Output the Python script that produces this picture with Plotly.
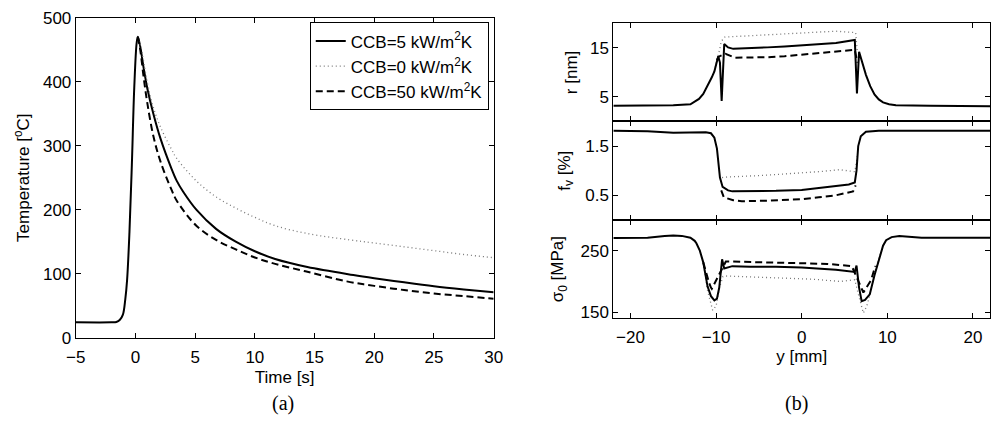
import plotly.graph_objects as go

# ---------------- Panel (a): temperature vs time ----------------
t_solid = [-5, -2, -1.6, -1.3, -1.05, -0.85, -0.7, -0.5, -0.3, -0.1, 0.1, 0.2, 0.4, 0.7, 1.0, 1.5, 2.1, 3.0, 3.46,
           4.0, 5.1, 6.75, 8.4, 10, 11.7, 14.4, 18.25, 20, 22.5, 25, 27.5, 30]
T_solid = [24, 24, 24.5, 28, 36, 60, 90, 165, 270, 390, 460, 470, 455, 420, 389, 350, 311, 265, 245,
           228, 200, 170, 150, 135, 123, 110.5, 98, 93, 86.5, 80.5, 75.5, 71]

t_ccb0 = [0.2, 0.4, 0.7, 1.0, 1.5, 2.1, 3.0, 3.46, 5.1, 6.75, 8.4, 10, 11.7, 14.4, 18, 20, 22.5, 25, 27.5, 30]
T_ccb0 = [470, 458, 430, 398, 360, 329, 295, 280, 245, 220, 202.5, 188, 175, 162.7, 152.7, 148, 142, 136, 130, 125]

t_ccb50 = [0.2, 0.4, 0.7, 1.0, 1.5, 2.1, 3.0, 3.46, 5.1, 6.75, 8.4, 10, 11.7, 14.4, 17.7, 20, 22.5, 25, 27.5, 30]
T_ccb50 = [470, 450, 405, 366, 315, 275, 232, 214, 175, 152.7, 138, 125.4, 115.4, 103, 88, 81, 74.5, 69, 65, 61]

legend_names = ["CCB=5 kW/m<sup>2</sup>K", "CCB=0 kW/m<sup>2</sup>K", "CCB=50 kW/m<sup>2</sup>K"]

# ---------------- Panel (b): profiles vs y ----------------
# r [nm]
y_r_solid = [-22, -18, -15, -13, -12.5, -12, -11.5, -11, -10.5, -10.2, -9.9, -9.75, -9.55, -9.35, -9.05, -8.6, -8,
             -6, -4, -2, 0, 2, 4, 6.2, 6.35, 6.45, 6.7, 7.0, 7.5, 8.0, 8.5, 9.0, 9.5, 10.2, 11, 15, 22]
r_solid = [3.2, 3.2, 3.3, 3.5, 4.0, 4.6, 5.6, 7.2, 9.0, 10.2, 12.5, 13.3, 12.0, 4.2, 15.8, 15.1, 14.8,
           14.9, 15.1, 15.3, 15.5, 15.7, 16.0, 16.6, 10.0, 5.7, 14.2, 12.5, 9.5, 7.2, 5.5, 4.5, 3.9, 3.5, 3.3, 3.2, 3.1]
y_r_ccb0 = [-10.2, -9.9, -9.6, -9.4, -9.0, -6, -3, 0, 2, 4, 5.5, 6.3, 6.5]
r_ccb0 = [10.2, 12.8, 14.5, 16.3, 17.2, 17.5, 17.8, 18.0, 18.2, 18.4, 18.2, 18.1, 14.0]
y_r_ccb50 = [-9.9, -9.7, -9.2, -8.9, -7.8, -6, -4, -2, 0, 2, 4, 6.2, 6.5]
r_ccb50 = [12.5, 13.2, 13.6, 13.8, 13.0, 13.0, 13.1, 13.3, 13.6, 13.9, 14.2, 14.6, 12.0]

# f_v [%]
y_f_solid = [-22, -18, -15, -13, -11.2, -10.6, -10.2, -9.9, -9.7, -9.55, -9.24, -8.6, -8.1, -6, -3, 0, 2, 4,
             5.5, 6.2, 6.4, 6.6, 6.9, 7.5, 9, 15, 22]
f_solid = [1.81, 1.80, 1.77, 1.78, 1.78, 1.76, 1.67, 1.45, 1.10, 0.86, 0.67, 0.60, 0.58, 0.58, 0.59, 0.61, 0.65, 0.69,
           0.72, 0.76, 1.00, 1.50, 1.70, 1.79, 1.81, 1.81, 1.81]
y_f_ccb0 = [-9.3, -8.9, -5, 0, 2, 4.4, 6.2, 6.5]
f_ccb0 = [0.86, 0.87, 0.90, 0.95, 0.98, 1.02, 0.98, 1.3]
y_f_ccb50 = [-9.4, -9.1, -8, -7, -4, 0, 2, 4, 6, 6.3]
f_ccb50 = [0.60, 0.46, 0.40, 0.38, 0.39, 0.42, 0.46, 0.50, 0.58, 0.7]

# sigma_0 [MPa]
y_s_solid = [-22, -18, -16, -15, -14, -13, -12.5, -12.3, -11.9, -11.5, -11, -10.6, -10.2, -9.9, -9.63, -9.4, -9.3,
             -9.05, -8.1, -6, -3, 0, 2, 4, 6.2, 6.4, 6.7, 7.0, 7.4, 7.95, 8.5, 9.1, 9.5, 9.86, 10.5, 11.4, 13, 14,
             18, 22]
s_solid = [270.5, 271, 274, 274.8, 274, 271, 266, 262, 250, 231, 192, 176, 169, 172, 190, 220, 236,
           221, 224.8, 224, 224, 222.5, 221, 219, 215.5, 225.8, 190, 168, 170, 179, 210, 241, 258, 267, 272, 273.8,
           272, 271, 271, 271]
y_s_ccb0 = [-11.5, -11, -10.4, -10, -9.6, -9.2, -8.86, -5, -3, 1.26, 4.5, 6.2, 6.6, 7.2, 7.6, 8.2, 8.7, 9.2]
s_ccb0 = [231, 185, 153, 160, 190, 208, 208.8, 207, 205, 203.6, 200, 202.6, 180, 148.5, 160, 190, 225, 245]
y_s_ccb50 = [-11.5, -11.0, -10.8, -10.6, -10.5, -8.86, -5, 0, 3, 5.85, 6.6, 7.2, 8.1, 8.6]
s_ccb50 = [231, 205, 197, 190, 188, 232.5, 231.5, 230, 228.5, 224.8, 200, 182, 202, 225]

FONT = "Liberation Sans"
SERIF = "Liberation Serif"

solid_line = dict(color="black", width=2)
dot_line = dict(color="#777777", width=1.3, dash="1px,3px")
dash_line = dict(color="black", width=2, dash="7px,4px")

fig = go.Figure()

# Panel (a)
fig.add_trace(go.Scatter(x=t_solid, y=T_solid, mode="lines", line=solid_line, line_shape="spline",
                         name=legend_names[0], xaxis="x", yaxis="y"))
fig.add_trace(go.Scatter(x=t_ccb0, y=T_ccb0, mode="lines", line=dot_line, line_shape="spline",
                         name=legend_names[1], xaxis="x", yaxis="y"))
fig.add_trace(go.Scatter(x=t_ccb50, y=T_ccb50, mode="lines", line=dash_line, line_shape="spline",
                         name=legend_names[2], xaxis="x", yaxis="y"))

# Panel (b)
for xs, ys, ln, ax in [
    (y_r_ccb0, r_ccb0, dot_line, "2"), (y_r_ccb50, r_ccb50, dash_line, "2"), (y_r_solid, r_solid, solid_line, "2"),
    (y_f_ccb0, f_ccb0, dot_line, "3"), (y_f_ccb50, f_ccb50, dash_line, "3"), (y_f_solid, f_solid, solid_line, "3"),
    (y_s_ccb0, s_ccb0, dot_line, "4"), (y_s_ccb50, s_ccb50, dash_line, "4"), (y_s_solid, s_solid, solid_line, "4"),
]:
    fig.add_trace(go.Scatter(x=xs, y=ys, mode="lines", line=ln, showlegend=False,
                             xaxis="x" + ax, yaxis="y" + ax))

W, H = 1003, 428
def fx(a):
    return a / W
def fy(b):
    return 1 - b / H
def px_x(a, b):
    return [fx(a), fx(b)]
def px_y(top, bottom):
    return [fy(bottom), fy(top)]

axis_common = dict(showline=True, linecolor="black", linewidth=1, mirror="ticks", ticks="inside",
                   ticklen=5, tickcolor="black", showgrid=False, zeroline=False,
                   ticklabeloverflow="allow",
                   tickfont=dict(family=FONT, size=17, color="black"),
                   title_font=dict(family=FONT, size=17, color="black"))

fig.update_layout(
    width=W, height=H, autosize=False,
    margin=dict(l=0, r=0, t=0, b=0),
    paper_bgcolor="white", plot_bgcolor="white",
    font=dict(family=FONT, color="black"),
    xaxis=dict(domain=px_x(67, 493), range=[-5, 30], dtick=5, anchor="y", ticklabelstandoff=4,
               title=dict(text="Time [s]", standoff=4), **axis_common),
    yaxis=dict(domain=px_y(9, 344), range=[0, 500], dtick=100, anchor="x",
               title=dict(text="Temperature [<sup>o</sup>C]", standoff=8), **axis_common),
    xaxis2=dict(domain=px_x(615, 999), range=[-22, 22], tickvals=[-20, -10, 0, 10, 20], anchor="y2",
                showticklabels=False, **axis_common),
    yaxis2=dict(domain=px_y(15, 117.7), range=[0, 20], tickvals=[5, 15], anchor="x2",
                title=dict(text="r [nm]", standoff=8), **axis_common),
    xaxis3=dict(domain=px_x(615, 999), range=[-22, 22], tickvals=[-20, -10, 0, 10, 20], anchor="y3",
                showticklabels=False, **axis_common),
    yaxis3=dict(domain=px_y(117.7, 220.7), range=[0, 2], tickvals=[0.5, 1.5], anchor="x3",
                title=dict(text="f<sub>v</sub> [%]", standoff=10), **axis_common),
    xaxis4=dict(domain=px_x(615, 999), range=[-22, 22], tickvals=[-20, -10, 0, 10, 20], anchor="y4",
                ticklabelstandoff=3, title=dict(text="y [mm]", standoff=1), **axis_common),
    yaxis4=dict(domain=px_y(220.7, 323.7), range=[140, 300], tickvals=[150, 250], anchor="x4",
                title=dict(text="σ<sub>0</sub> [MPa]", standoff=12), **axis_common),
    legend=dict(x=fx(488), y=fy(14), xanchor="right", yanchor="top",
                bgcolor="white", bordercolor="black", borderwidth=1,
                font=dict(family=FONT, size=17, color="black"), tracegroupgap=0),
    annotations=[
        dict(text="(a)", x=fx(278), y=fy(413), xref="paper", yref="paper", showarrow=False,
             xanchor="center", yanchor="middle", font=dict(family=SERIF, size=20, color="black")),
        dict(text="(b)", x=fx(802), y=fy(413), xref="paper", yref="paper", showarrow=False,
             xanchor="center", yanchor="middle", font=dict(family=SERIF, size=20, color="black")),
    ],
)

# remove the default page margin so the 1003x428 figure fills the window exactly
fig.write_html("out.html", config={"displayModeBar": False},
               post_script="document.body.style.margin='0';document.body.style.overflow='hidden';")
